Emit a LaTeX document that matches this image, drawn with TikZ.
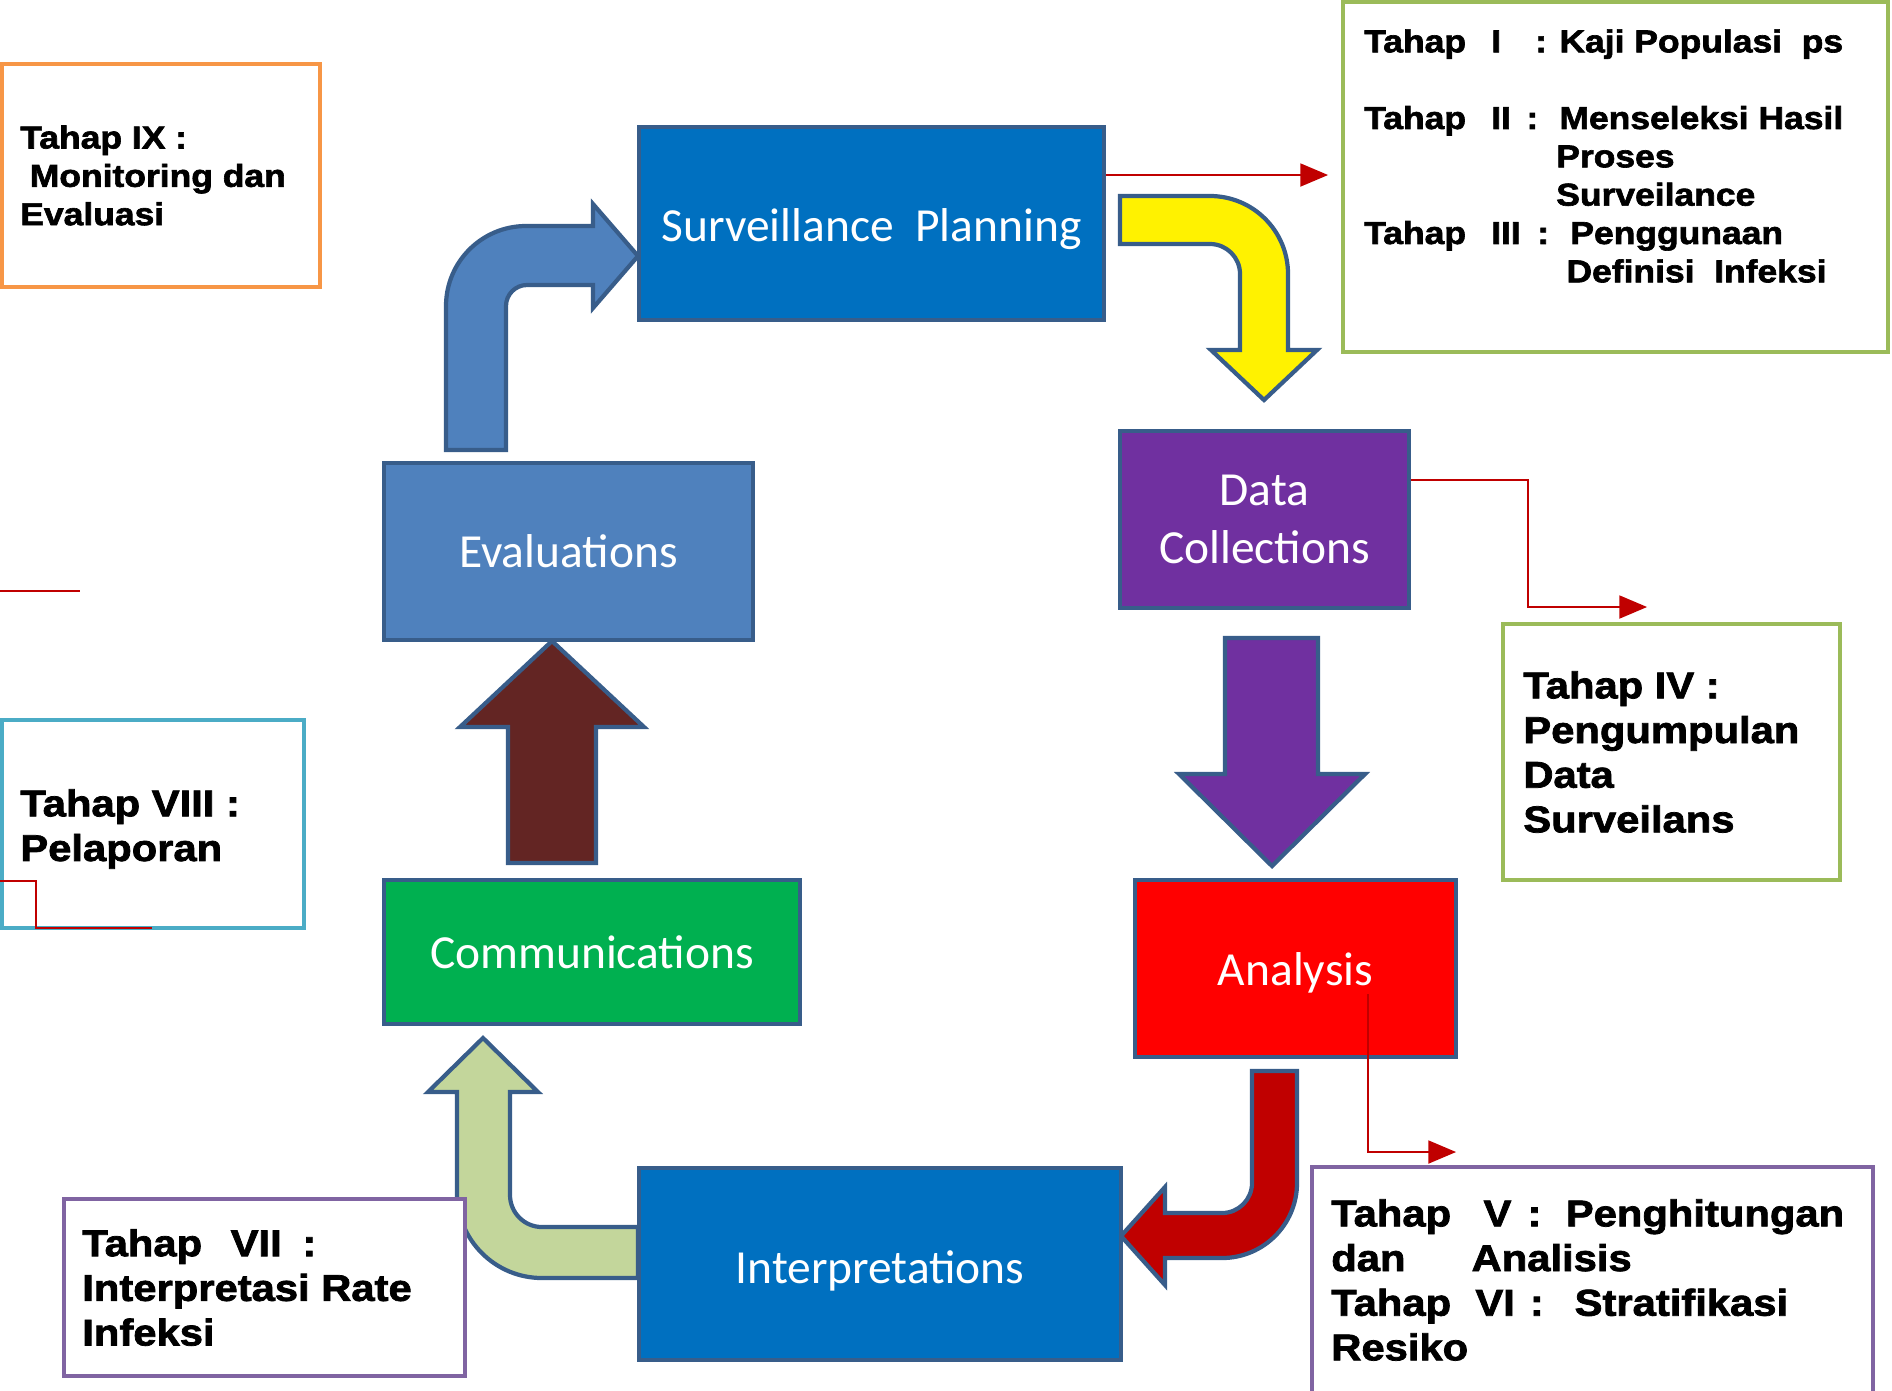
\documentclass[tikz,border=0pt]{standalone}
\usepackage{fontspec}
\setmainfont{Carlito}
\newfontfamily\tahapfont{Liberation Sans}[FakeStretch=1.12, BoldFeatures={FakeBold=2}]
\usepackage{tikz}
\usetikzlibrary{arrows,positioning}
\definecolor{stageline}{HTML}{385D8A}
\definecolor{planblue}{HTML}{0070C0}
\definecolor{evalblue}{HTML}{4F81BD}
\definecolor{datapurple}{HTML}{7030A0}
\definecolor{analysisred}{HTML}{FF0000}
\definecolor{commgreen}{HTML}{00B050}
\definecolor{connred}{HTML}{C00000}
\definecolor{jred}{HTML}{C00000}
\definecolor{brownarrow}{HTML}{632523}
\definecolor{palegreen}{HTML}{C3D69B}
\definecolor{orangeline}{HTML}{F79646}
\definecolor{greenline}{HTML}{9BBB59}
\definecolor{purpleline}{HTML}{8064A2}
\definecolor{cyanline}{HTML}{4BACC6}
\tikzset{
    surv/.style={x=0.01cm, y=-0.01cm},
    stage/.style={draw=stageline, line width=1.2pt, text=white, inner sep=0pt,
                  align=center, font=\fontsize{13.5}{16.5}\selectfont},
    note/.style={draw, fill=white, line width=1.3pt, inner sep=0pt},
    notetext/.style={inner sep=0pt, align=left,
                     font=\tahapfont\bfseries\fontsize{10.6}{12.7}\selectfont},
    smalltext/.style={notetext, font=\tahapfont\bfseries\fontsize{9}{10.9}\selectfont},
    bigarrow/.style={draw=stageline, line width=1.2pt},
    conn/.style={draw=connred, line width=0.8pt, >=triangle 45},
    }
\begin{document}
\begin{tikzpicture}[surv]
    \useasboundingbox (0,0) rectangle (1892,1390);

    \draw[bigarrow, fill=evalblue] (446,450) -- (446,306) arc[start angle=180, end angle=270, radius=80]
        -- (593,226) -- (593,204) -- (638,256) -- (593,308) -- (593,285) -- (527,285)
        arc[start angle=270, end angle=180, radius=21] -- (506,450) -- cycle;
    \draw[bigarrow, fill=yellow] (1120,196) -- (1210,196) arc[start angle=270, end angle=360, radius=78]
        -- (1288,350) -- (1317,350) -- (1264,400) -- (1211,350) -- (1240,350) -- (1240,274)
        arc[start angle=0, end angle=-90, radius=30] -- (1120,244) -- cycle;
    \draw[bigarrow, fill=datapurple] (1225,638) -- (1318,638) -- (1318,774) -- (1365,774)
        -- (1272,866) -- (1179,774) -- (1225,774) -- cycle;
    \draw[bigarrow, fill=jred] (1252,1071) -- (1297,1071) -- (1297,1183) arc[start angle=0, end angle=90, radius=75]
        -- (1165,1258) -- (1165,1285) -- (1121,1236) -- (1165,1187) -- (1165,1213) -- (1222,1213)
        arc[start angle=90, end angle=0, radius=30] -- cycle;
    \draw[bigarrow, fill=palegreen] (638,1278) -- (542,1278) arc[start angle=90, end angle=180, radius=85]
        -- (457,1092) -- (428,1092) -- (483,1038) -- (538,1092) -- (510,1092) -- (510,1195)
        arc[start angle=180, end angle=90, radius=32] -- (638,1227) -- cycle;
    \draw[bigarrow, fill=brownarrow] (508,863) -- (508,727) -- (460,727) -- (552,641)
        -- (644,727) -- (596,727) -- (596,863) -- cycle;

    \node[stage, fill=planblue, minimum width=4.65cm, minimum height=1.93cm] (plan) at (871.5,223.5) {\raisebox{-0.06cm}[\height][\depth]{Surveillance\ \ Planning}};
    \node[stage, fill=datapurple, minimum width=2.89cm, minimum height=1.77cm] (data) at (1264.5,519.5) {Data\\Collections};
    \node[stage, fill=analysisred, minimum width=3.21cm, minimum height=1.77cm] (analysis) at (1295.5,968.5) {\raisebox{-0.04cm}[\height][\depth]{Analysis}};
    \node[stage, fill=planblue, minimum width=4.82cm, minimum height=1.92cm] (interp) at (880,1264) {\raisebox{-0.07cm}[\height][\depth]{Interpretations}};
    \node[stage, fill=commgreen, minimum width=4.16cm, minimum height=1.44cm] (comm) at (592,952) {Communications};
    \node[stage, fill=evalblue, minimum width=3.69cm, minimum height=1.77cm] (eval) at (568.5,551.5) {Evaluations};

    \node[note, draw=orangeline, minimum width=3.18cm, minimum height=2.23cm] (boxIX) at (161,175.5) {};
    \node[smalltext, right=0.2cm of boxIX.west] (tahapIX) {Tahap IX :\\\hspace*{0.3em}Monitoring dan\\Evaluasi};

    \node[note, draw=greenline, minimum width=5.45cm, minimum height=3.5cm] (boxI) at (1615.5,177) {};
    \node[smalltext, right=0.23cm of boxI.west, yshift=0.21cm] (tahapI) {%
        \makebox[36.1pt][l]{Tahap}\makebox[12.5pt][l]{I}\makebox[6.9pt][l]{:}Kaji Populasi\ \ ps\\[10.9pt]
        \makebox[36.1pt][l]{Tahap}\makebox[10pt][l]{II}\makebox[9.4pt][l]{:}Menseleksi Hasil\\
        \hspace*{54.6pt}Proses\\
        \hspace*{54.6pt}Surveilance\\
        \makebox[36.1pt][l]{Tahap}\makebox[13.1pt][l]{III}\makebox[9.4pt][l]{:}Penggunaan\\
        \hspace*{57.5pt}Definisi\ \ Infeksi};

    \node[note, draw=greenline, minimum width=3.37cm, minimum height=2.56cm] (boxIV) at (1671.5,752) {};
    \node[notetext, right=0.22cm of boxIV.west] (tahapIV) {Tahap IV :\\Pengumpulan\\Data\\Surveilans};

    \node[note, draw=purpleline, minimum width=5.61cm, minimum height=2.26cm] (boxV) at (1592.5,1280) {};
    \node[notetext, right=0.21cm of boxV.west] (tahapV) {%
        \makebox[43.3pt][l]{Tahap}\makebox[12.5pt][l]{V}\makebox[10.9pt][l]{:}Penghitungan\\
        \makebox[39.9pt][l]{dan}Analisis\\
        \makebox[41pt][l]{Tahap}\makebox[15.5pt][l]{VI}\makebox[12.7pt][l]{:}Stratifikasi\\
        Resiko};

    \node[note, draw=purpleline, minimum width=4.01cm, minimum height=1.77cm] (boxVII) at (264.5,1287.5) {};
    \node[notetext, right=0.2cm of boxVII.west] (tahapVII) {%
        \makebox[42.2pt][l]{Tahap}\makebox[20.4pt][l]{VII}:\\Interpretasi Rate\\Infeksi};

    \node[note, draw=cyanline, minimum width=3.02cm, minimum height=2.08cm] (boxVIII) at (153,824) {};
    \node[notetext, right=0.2cm of boxVIII.west, yshift=-0.05cm] (tahapVIII) {Tahap VIII :\\Pelaporan};

    \coordinate (toI) at (1328,175);
    \coordinate (bendIV) at (1528,480);
    \coordinate (toIV) at (1647,607);
    \coordinate (fromAn) at (1368,994);
    \coordinate (toV) at (1456,1152);
    \coordinate (stubA) at (0,591);
    \coordinate (stubB) at (80,591);
    \coordinate (stubC) at (0,881);
    \coordinate (stubD) at (36,928);
    \coordinate (stubE) at (152,928);

    \draw[conn,->] (plan.east |- toI) -- (toI);
    \draw[conn,->] (data.east |- bendIV) -- (bendIV) |- (toIV);
    \draw[conn,->] (fromAn) |- (toV);
    \draw[conn] (stubA) -- (stubB);
    \draw[conn] (stubC) -| (stubD) -- (stubE);
\end{tikzpicture}
\end{document}
